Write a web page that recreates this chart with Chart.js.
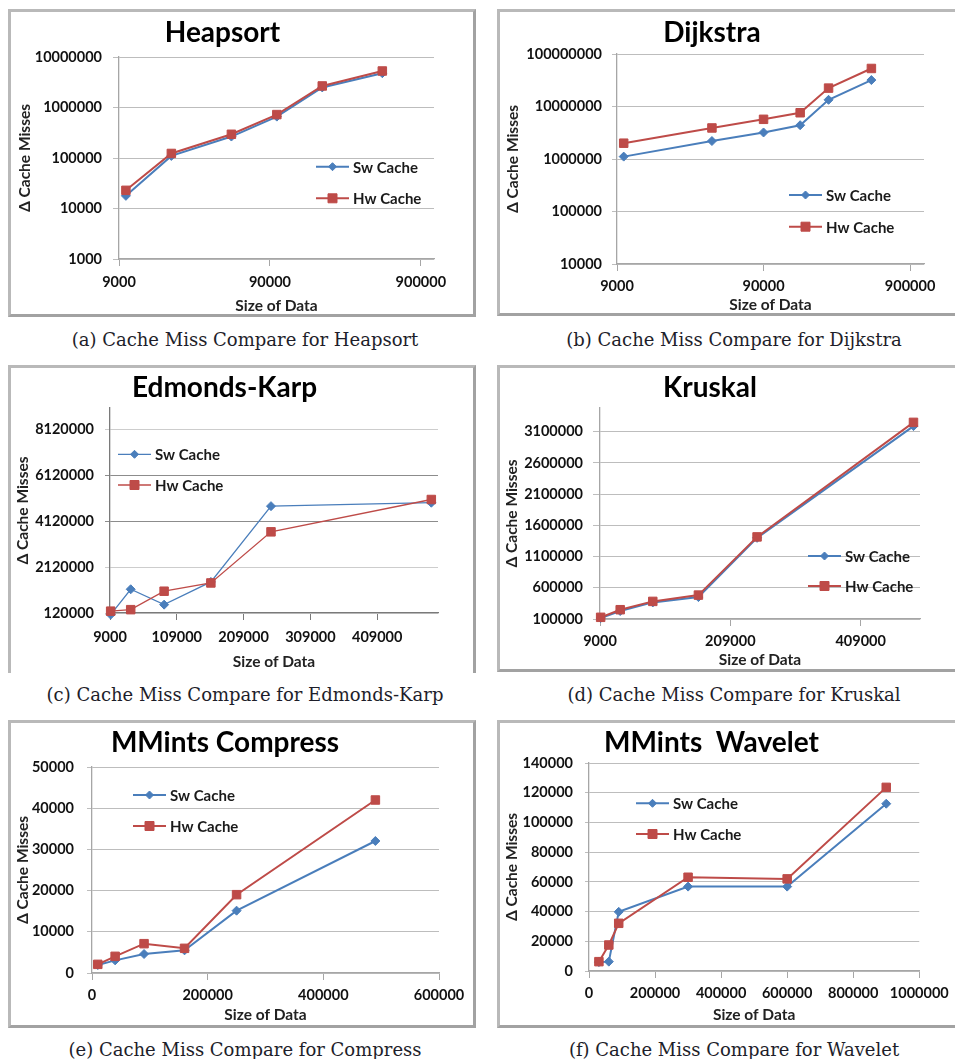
<!DOCTYPE html>
<html><head><meta charset="utf-8">
<script src="https://cdn.jsdelivr.net/npm/chart.js@4.4.1/dist/chart.umd.min.js"></script>
<style>
html,body{margin:0;padding:0;background:#fff;}
body{width:955px;height:1059px;position:relative;overflow:hidden;}
.frame{position:absolute;box-sizing:border-box;border:3px solid #b9b9b9;border-right-color:#a2a2a2;border-bottom-color:#a2a2a2;}
.cap{position:absolute;font-family:"DejaVu Serif",serif;font-size:18px;color:#1e1e2a;white-space:nowrap;transform:translate(-50%,-50%);}
</style></head><body>
<script>
// ---------------- DATA ----------------
const seriesNames = ['Sw Cache', 'Hw Cache'];

const heapSizes = [10000, 20000, 50000, 100000, 200000, 500000];
const heapSw = [17800, 110000, 266000, 660000, 2500000, 4780000];
const heapHw = [22900, 123000, 295000, 724000, 2670000, 5280000];
const heapXTicks = [9000, 90000, 900000];
const heapYTicks = [1000, 10000, 100000, 1000000, 10000000];

const dijSizes = [10000, 40000, 90000, 160000, 250000, 490000];
const dijSw = [1110000, 2200000, 3200000, 4400000, 13400000, 31900000];
const dijHw = [2000000, 3900000, 5700000, 7600000, 22400000, 53000000];
const dijXTicks = [9000, 90000, 900000];
const dijYTicks = [10000, 100000, 1000000, 10000000, 100000000];

const ekSizes = [10000, 40000, 90000, 160000, 250000, 490000];
const ekSw = [50000, 1155000, 484000, 1475000, 4780000, 4930000];
const ekHw = [200000, 266000, 1070000, 1430000, 3660000, 5070000];
const ekXTicks = [9000, 109000, 209000, 309000, 409000];
const ekYTicks = [120000, 2120000, 4120000, 6120000, 8120000];

const krSizes = [10000, 40000, 90000, 160000, 250000, 490000];
const krSw = [116000, 228000, 366000, 451000, 1400000, 3190000];
const krHw = [127000, 249000, 382000, 483000, 1415000, 3250000];
const krXTicks = [9000, 209000, 409000];
const krYTicks = [100000, 600000, 1100000, 1600000, 2100000, 2600000, 3100000];

const cmpSizes = [10000, 40000, 90000, 160000, 250000, 490000];
const cmpSw = [1940, 3070, 4610, 5500, 15130, 32040];
const cmpHw = [2100, 4045, 7120, 5990, 19010, 41990];
const cmpXTicks = [0, 200000, 400000, 600000];
const cmpYTicks = [0, 10000, 20000, 30000, 40000, 50000];

const wavSizes = [30000, 60000, 90000, 300000, 600000, 900000];
const wavSw = [6000, 6300, 39800, 56800, 56800, 112600];
const wavHw = [6290, 17500, 32100, 63100, 62000, 123600];
const wavXTicks = [0, 200000, 400000, 600000, 800000, 1000000];
const wavYTicks = [0, 20000, 40000, 60000, 80000, 100000, 120000, 140000];

// ---------------- LAYOUT ----------------
const panels = [
 {title:'Heapsort', sizes:heapSizes, sw:heapSw, hw:heapHw, xt:heapXTicks, yt:heapYTicks,
  xType:'logarithmic', yType:'logarithmic', xMin:9000, xMax:1100000, yMin:1000, yMax:10000000,
  frame:[8,9,468,308,true], canvas:[11,12,462,302], area:[119,57,434,259], titleY:33, yTitleX:25, xTitleY:306,
  xLabelY:282, yLabelRight:102, yTick:6, xTick:7, legX:316, legY:[166.7,198.3], lw:2,
  caption:'(a) Cache Miss Compare for Heapsort', capX:245, capY:339},
 {title:'Dijkstra', sizes:dijSizes, sw:dijSw, hw:dijHw, xt:dijXTicks, yt:dijYTicks,
  xType:'logarithmic', yType:'logarithmic', xMin:9000, xMax:1120000, yMin:10000, yMax:100000000,
  frame:[497,9,470,307,true], canvas:[500,12,455,302], area:[617,54,924,264], titleY:33, yTitleX:513, xTitleY:305,
  xLabelY:286, yLabelRight:602, yTick:5, xTick:7, legX:789, legY:[195,226.7], lw:2,
  caption:'(b) Cache Miss Compare for Dijkstra', capX:734, capY:339},
 {title:'Edmonds-Karp', sizes:ekSizes, sw:ekSw, hw:ekHw, xt:ekXTicks, yt:ekYTicks,
  xType:'linear', yType:'linear', xMin:9000, xMax:500000, yMin:120000, yMax:9060000,
  frame:[8,365,468,308,false], canvas:[11,368,462,302], area:[110,408,438,613], titleY:388, yTitleX:23, xTitleY:662,
  xLabelY:637, yLabelRight:94, yTick:5, xTick:7, legX:118, legY:[454.3,485], lw:1.3, dark:true,
  caption:'(c) Cache Miss Compare for Edmonds-Karp', capX:245, capY:694},
 {title:'Kruskal', sizes:krSizes, sw:krSw, hw:krHw, xt:krXTicks, yt:krYTicks,
  xType:'linear', yType:'linear', xMin:9000, xMax:500000, yMin:100000, yMax:3480000,
  frame:[497,365,470,307,true], canvas:[500,368,455,301], area:[600,408,920,619], titleY:388, yTitleX:512, xTitleY:660,
  xLabelY:641, yLabelRight:583, yTick:7, xTick:7, legX:808, legY:[556,586], lw:2,
  caption:'(d) Cache Miss Compare for Kruskal', capX:734, capY:694},
 {title:'MMints Compress', sizes:cmpSizes, sw:cmpSw, hw:cmpHw, xt:cmpXTicks, yt:cmpYTicks,
  xType:'linear', yType:'linear', xMin:0, xMax:600000, yMin:0, yMax:50000,
  frame:[8,720,468,308,true], canvas:[11,723,462,301], area:[92,767,439,973], titleY:743, yTitleX:23, xTitleY:1015,
  xLabelY:995, yLabelRight:74, yTick:5, xTick:7, legX:133, legY:[795,826], lw:2,
  caption:'(e) Cache Miss Compare for Compress', capX:245, capY:1049},
 {title:'MMints  Wavelet', sizes:wavSizes, sw:wavSw, hw:wavHw, xt:wavXTicks, yt:wavYTicks,
  xType:'linear', yType:'linear', xMin:0, xMax:1000000, yMin:0, yMax:140000,
  frame:[497,720,470,308,true], canvas:[500,723,455,301], area:[589,763,923,971], titleY:743, yTitleX:512, xTitleY:1015,
  xLabelY:993, yLabelRight:573, yTick:4, xTick:7, legX:636, legY:[803.3,834], lw:2,
  caption:'(f) Cache Miss Compare for Wavelet', capX:734, capY:1049}
];

const SW_COLOR = '#4a7ebb', HW_COLOR = '#be4b48';
const FONT = 'Lato';

function drawMarker(ctx, style, r, x, y, color) {
  ctx.save();
  ctx.fillStyle = color; ctx.strokeStyle = color; ctx.lineWidth = 1;
  ctx.beginPath();
  if (style === 'rectRot') {
    ctx.moveTo(x, y - r); ctx.lineTo(x + r, y); ctx.lineTo(x, y + r); ctx.lineTo(x - r, y); ctx.closePath();
  } else {
    ctx.rect(x - r, y - r, 2 * r, 2 * r);
  }
  ctx.fill(); ctx.stroke();
  ctx.restore();
}

const innerLegend = {
  id: 'innerLegend',
  afterDraw(chart, args, opts) {
    const ctx = chart.ctx;
    chart.data.datasets.forEach((ds, i) => {
      const y = opts.ys[i], x0 = opts.x, x1 = opts.x + opts.len, xm = (x0 + x1) / 2;
      ctx.save();
      ctx.strokeStyle = ds.borderColor; ctx.lineWidth = ds.borderWidth;
      ctx.beginPath(); ctx.moveTo(x0, y); ctx.lineTo(x1, y); ctx.stroke();
      drawMarker(ctx, ds.pointStyle, ds.pointStyle === 'rect' ? 4.5 : 4, xm, y, ds.borderColor);
      ctx.fillStyle = '#1a1a1a';
      ctx.font = 'bold 15px ' + FONT;
      ctx.textBaseline = 'middle'; ctx.textAlign = 'left';
      ctx.fillText(ds.label, x1 + 4, y + 1);
      ctx.restore();
    });
  }
};

function build(p) {
  const [fl, ft, fw, fh, fb] = p.frame;
  const fr = document.createElement('div');
  fr.className = 'frame';
  Object.assign(fr.style, {left: fl + 'px', top: ft + 'px', width: fw + 'px', height: fh + 'px'});
  if (!fb) fr.style.borderBottom = 'none';
  document.body.appendChild(fr);

  const cap = document.createElement('div');
  cap.className = 'cap';
  cap.textContent = p.caption;
  cap.style.left = p.capX + 'px'; cap.style.top = p.capY + 'px';
  document.body.appendChild(cap);

  const [cl, ct, cw, ch] = p.canvas;
  const cv = document.createElement('canvas');
  cv.width = cw; cv.height = ch;
  Object.assign(cv.style, {position: 'absolute', left: cl + 'px', top: ct + 'px', width: cw + 'px', height: ch + 'px'});
  document.body.appendChild(cv);

  const aL = p.area[0] - cl, aT = p.area[1] - ct, aR = p.area[2] - cl, aB = p.area[3] - ct;
  const TF = 28, TLH = TF * 1.2;
  const tPadTop = (p.titleY - ct) - TLH / 2;
  const tPadBot = aT - tPadTop - TLH;
  const AF = 15.5, ALH = AF * 1.2;
  const TK = 14.5, TKLH = TK * 1.2;
  const xH = ch - aB;
  const yTitlePad = (p.yTitleX - cl) - ALH / 2;
  const xTitlePad = ch - (p.xTitleY - ct) - ALH / 2;
  const yLabPad = (p.area[0] - p.yLabelRight) - p.yTick;
  const xLabPad = (p.xLabelY - p.area[3]) - p.xTick - TKLH / 2;

  const gridCol = p.dark ? (c => (c.tick && (c.tick.value === 4120000 || c.tick.value === 6120000)) ? '#8c8c8c' : '#cdcdcd') : '#bdbdbd';
  const axisCol = p.dark ? '#7a7a7a' : '#a6a6a6';

  const mkTicks = vals => (s => { s.ticks = vals.map(v => ({value: v})); });

  new Chart(cv, {
    type: 'scatter',
    data: {
      datasets: [
        {label: seriesNames[0], data: p.sizes.map((x, i) => ({x: x, y: p.sw[i]})), showLine: true,
         borderColor: SW_COLOR, backgroundColor: SW_COLOR, borderWidth: p.lw, pointStyle: 'rectRot',
         pointRadius: 4.5, pointBorderWidth: 1, order: 2, clip: false},
        {label: seriesNames[1], data: p.sizes.map((x, i) => ({x: x, y: p.hw[i]})), showLine: true,
         borderColor: HW_COLOR, backgroundColor: HW_COLOR, borderWidth: p.lw, pointStyle: 'rect',
         pointRadius: 6, pointBorderWidth: 1, order: 1, clip: false}
      ]
    },
    options: {
      responsive: false, animation: false, events: [],
      layout: {padding: {left: 0, top: 0, bottom: 0, right: cw - aR}},
      plugins: {
        legend: {display: false}, tooltip: {enabled: false},
        title: {display: true, text: p.title, color: '#000',
                font: {family: FONT, size: TF, weight: 'bold', lineHeight: 1.2},
                padding: {top: tPadTop, bottom: tPadBot}},
        innerLegend: {x: p.legX - cl, len: 33, ys: p.legY.map(v => v - ct)}
      },
      scales: {
        x: {
          type: p.xType, min: p.xMin, max: p.xMax, position: 'bottom',
          afterBuildTicks: mkTicks(p.xt),
          afterFit: s => { s.height = xH; },
          grid: {drawOnChartArea: false, drawTicks: true, tickLength: p.xTick, color: axisCol, lineWidth: 1},
          border: {display: true, color: axisCol, width: 1.3},
          ticks: {autoSkip: false, maxRotation: 0, minRotation: 0, padding: xLabPad, color: '#111',
                  font: {family: FONT, size: TK, weight: 'bold', lineHeight: 1.2},
                  callback: v => String(v)},
          title: {display: true, text: 'Size of Data', color: '#222',
                  font: {family: FONT, size: AF, weight: 'bold', lineHeight: 1.2},
                  padding: {top: 0, bottom: xTitlePad}}
        },
        y: {
          type: p.yType, min: p.yMin, max: p.yMax, position: 'left',
          afterBuildTicks: mkTicks(p.yt),
          afterFit: s => { s.width = aL; },
          grid: {drawOnChartArea: true, drawTicks: true, tickLength: p.yTick, color: gridCol, lineWidth: 1},
          border: {display: true, color: axisCol, width: 1.3},
          ticks: {autoSkip: false, padding: yLabPad, color: '#111',
                  font: {family: FONT, size: TK, weight: 'bold', lineHeight: 1.2},
                  callback: v => String(v)},
          title: {display: true, text: 'Δ Cache Misses', color: '#222',
                  font: {family: FONT, size: AF, weight: 'bold', lineHeight: 1.2},
                  padding: {top: yTitlePad, bottom: 0}}
        }
      }
    },
    plugins: [innerLegend]
  });
}

panels.forEach(build);
</script>
</body></html>
